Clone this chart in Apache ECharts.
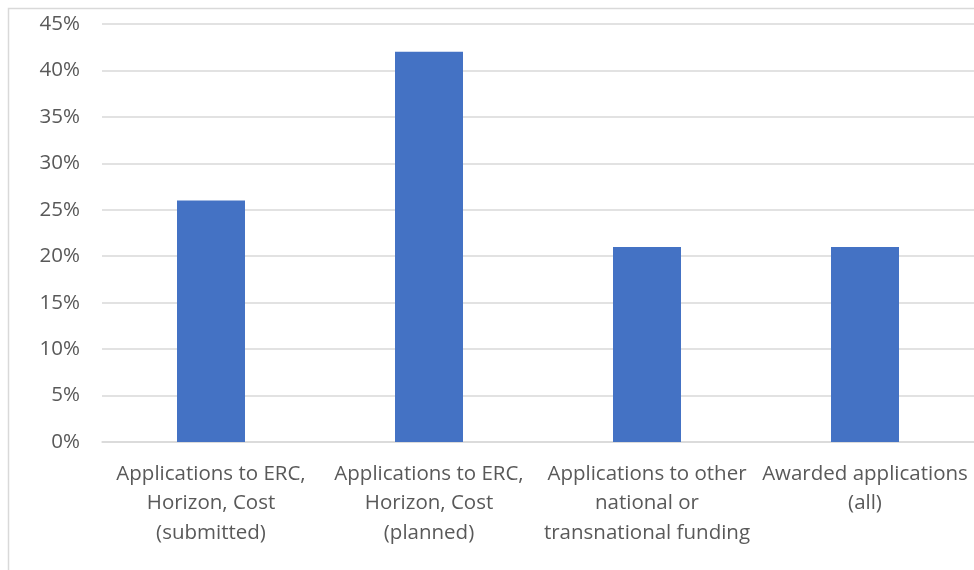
<!DOCTYPE html>
<html>
<head>
<meta charset="utf-8">
<script src="https://cdn.jsdelivr.net/npm/echarts@6/dist/echarts.min.js"></script>
<style>
html,body{margin:0;padding:0;background:#fff;}
#chart{width:974px;height:570px;}
</style>
</head>
<body>
<div id="chart"></div>
<script>
var categories = [
  "Applications to ERC,\nHorizon, Cost\n(submitted)",
  "Applications to ERC,\nHorizon, Cost\n(planned)",
  "Applications to other\nnational or\ntransnational funding",
  "Awarded applications\n(all)"
];
var values = [26, 42, 21, 21];
var yTicks = [0, 5, 10, 15, 20, 25, 30, 35, 40, 45];

var chart = echarts.init(document.getElementById('chart'), null, {renderer: 'canvas'});
var font = "'Open Sans', 'Noto Sans', sans-serif";
chart.setOption({
  animation: false,
  graphic: [{
    type: 'rect',
    shape: {x: 8.5, y: 8.5, width: 1000, height: 600},
    style: {fill: 'none', stroke: '#d9d9d9', lineWidth: 1.5},
    silent: true
  }],
  grid: {left: 102, top: 24, width: 876, height: 418, containLabel: false},
  xAxis: {
    type: 'category',
    data: categories,
    axisTick: {show: false},
    axisLine: {lineStyle: {color: '#d9d9d9', width: 1.5}},
    axisLabel: {
      color: '#595959', fontSize: 20.5, fontFamily: font, margin: 17,
      lineHeight: 29.5, interval: 0
    }
  },
  yAxis: {
    type: 'value',
    min: yTicks[0], max: yTicks[yTicks.length - 1], interval: 5,
    axisLine: {show: false},
    axisTick: {show: false},
    splitLine: {lineStyle: {color: '#d9d9d9', width: 1.5}},
    axisLabel: {
      color: '#595959', fontSize: 20.5, fontFamily: font, margin: 22,
      formatter: function (v) { return v + '%'; }
    }
  },
  series: [{
    type: 'bar',
    data: values,
    barWidth: 68,
    itemStyle: {color: '#4472C4'}
  }]
});
</script>
</body>
</html>
